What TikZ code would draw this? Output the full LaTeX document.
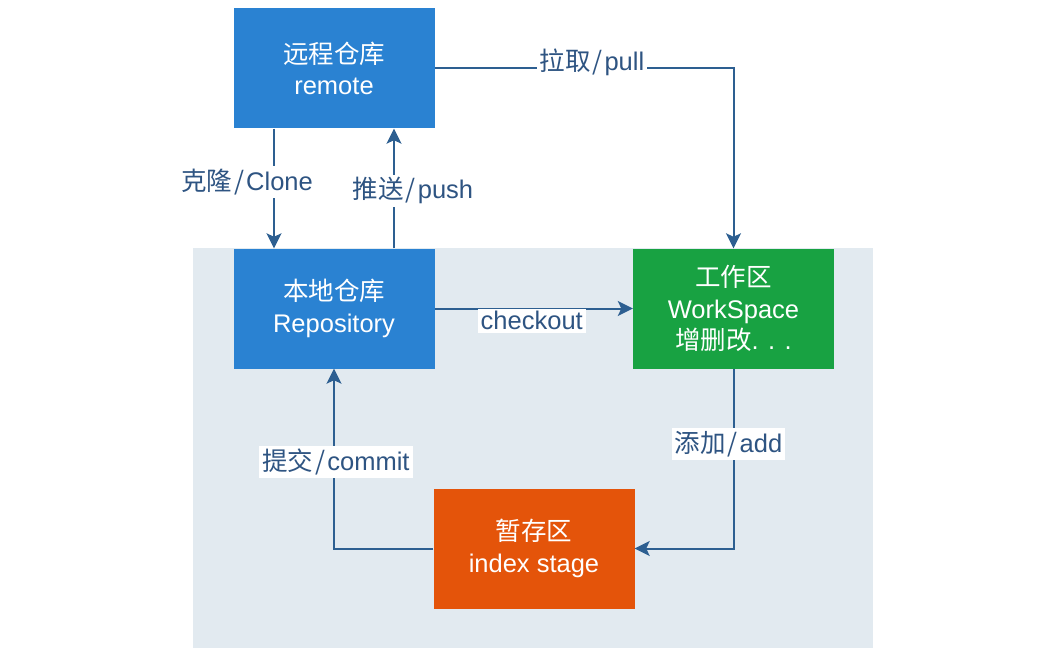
\documentclass[tikz,border=0pt]{standalone}
\usepackage{fontspec}
\setmainfont{Liberation Sans}
\newfontfamily\cjk{Noto Sans CJK SC}
\usetikzlibrary{arrows.meta}
\definecolor{boxblue}{RGB}{42,130,210}
\definecolor{boxgreen}{RGB}{24,162,66}
\definecolor{boxorange}{RGB}{228,84,10}
\definecolor{panel}{RGB}{226,234,240}
\definecolor{wire}{RGB}{45,95,145}
\definecolor{ink}{RGB}{46,84,130}
\newcommand{\zh}[1]{{\cjk #1}}
\newcommand{\slsh}{\kern2pt/\kern2pt}
\newcommand{\off}{60pt}

\begin{document}
\begin{tikzpicture}[
      x=1pt, y=-1pt, %one unit is one pixel of the target
      box/.style={minimum width=201pt, minimum height=120pt, inner sep=0pt,
        text=white, align=center, font=\fontsize{25.5}{31.5}\selectfont},
      flow/.style={wire, line width=2pt, -{Stealth[length=15pt,width=15pt,inset=3.5pt]}},
      tag/.style={fill=white, text=ink, inner sep=3pt, font=\fontsize{25.5}{28}\selectfont}
    ]
    \useasboundingbox (0,0) rectangle (1040,660);
    %panel behind the local side
    \fill[panel] (193,248) rectangle (873,648);
    % the four areas
    \node[box, fill=boxblue] (remote) at (334,68.5) {\zh{远程仓库}\\remote};
    \node[box, fill=boxblue] (local) at (334,308.5) {\zh{本地仓库}\\Repository};
    \node[box, fill=boxgreen] (work) at (733.5,308.5) {\zh{工作区}\\WorkSpace\\\zh{增删改}. . .};
    \node[box, fill=boxorange] (stage) at (534,548.5) {\zh{暂存区}\\index stage};
    % the commands between them
    \draw[flow] ([xshift=-\off]remote.south) -- node[tag, pos=0.445, xshift=-27pt]{\zh{克隆\slsh}Clone} ([xshift=-\off]local.north);
    \draw[flow] ([xshift=\off]local.north) -- node[tag, pos=0.48, xshift=19pt]{\zh{推送\slsh}push} ([xshift=\off]remote.south);
    \draw[flow] (remote.east) -| node[tag, pos=0.263, yshift=6pt]{\zh{拉取\slsh}pull} (work.north);
    \draw[flow] (local.east) -- node[tag, pos=0.49, anchor=north, yshift=1pt]{checkout} (work.west);
    \draw[flow] (work.south) |- node[tag, pos=0.21, xshift=-5pt]{\zh{添加\slsh}add} (stage.east);
    \draw[flow] (stage.west) -| node[tag, pos=0.74, xshift=2pt]{\zh{提交\slsh}commit} (local.south);
\end{tikzpicture}
\end{document}
